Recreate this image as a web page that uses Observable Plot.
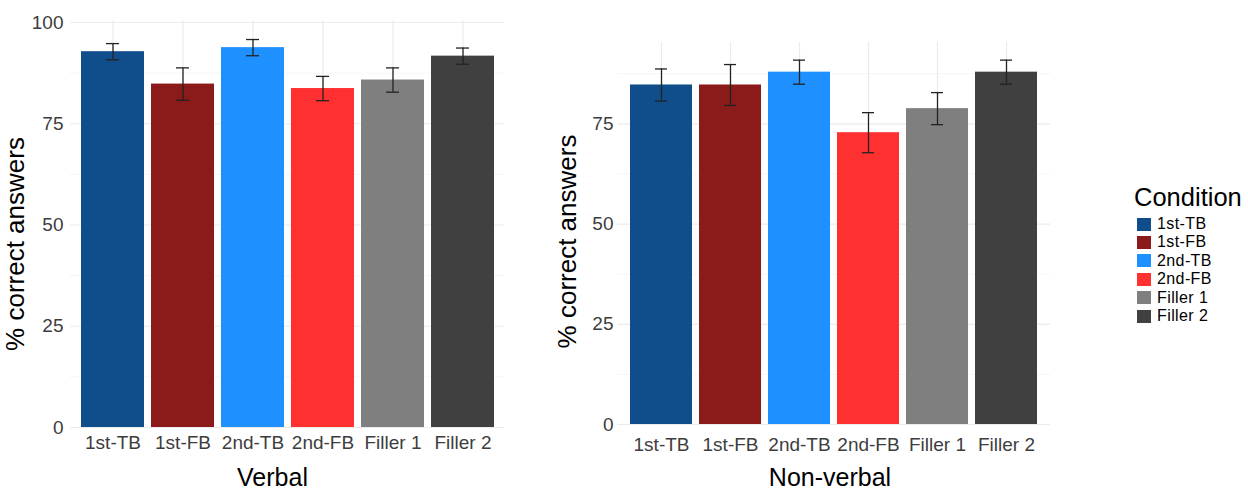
<!DOCTYPE html>
<html><head><meta charset="utf-8">
<script src="https://cdn.jsdelivr.net/npm/d3@7"></script>
<script src="https://cdn.jsdelivr.net/npm/@observablehq/plot@0.6"></script>
<style>
body{margin:0;background:#fff;font-family:"Liberation Sans",Arial,sans-serif;}
#wrap{position:relative;width:1248px;height:494px;overflow:hidden;background:#fff;}
#left,#right{position:absolute;top:0;}
#left{left:0px;} #right{left:530px;}
#legend{position:absolute;left:1134px;top:183px;color:#000;}
#legend .t{font-size:25.5px;line-height:29px;margin-bottom:3px;}
#legend .r{display:flex;align-items:center;height:18.4px;line-height:18.4px;font-size:16px;letter-spacing:0.4px;}
#legend .s{width:14px;height:13px;margin-left:3px;margin-right:6px;}
</style></head><body>
<div id="wrap"><div id="left"></div><div id="right"></div><div id="legend"></div></div>
<script>
const conditions = ["1st-TB", "1st-FB", "2nd-TB", "2nd-FB", "Filler 1", "Filler 2"];
const conditionColors = ["#104E8B", "#8B1A1A", "#1E90FF", "#FF3030", "#7F7F7F", "#404040"];
const verbalMean = [92.8, 84.8, 93.8, 83.7, 85.8, 91.7];
const verbalSE = [2, 4, 2, 3, 3, 2];
const nonverbalMean = [84.7, 84.7, 87.9, 72.8, 78.8, 87.9];
const nonverbalSE = [4, 5.1, 3, 5, 4, 3];
const yTicks = [0, 25, 50, 75, 100];
const yMinorTicks = [12.5, 37.5, 62.5, 87.5];
const legendTitle = "Condition";
const yTitle = "% correct answers";

function panel(o) {
  const data = conditions.map((c, i) => ({c, m: o.mean[i], lo: o.mean[i] - o.se[i], hi: o.mean[i] + o.se[i]}));
  const font = "'Liberation Sans', Arial, sans-serif";
  return Plot.plot({
    width: o.width, height: 494,
    marginLeft: o.marginLeft, marginRight: o.marginRight, marginTop: o.marginTop, marginBottom: o.marginBottom,
    style: {fontFamily: font, background: "#fff", overflow: "visible"},
    x: {domain: conditions, paddingInner: 0.1, paddingOuter: 0.15, axis: null},
    y: {domain: [0, o.yMax], axis: null},
    color: {domain: conditions, range: conditionColors},
    marks: [
      Plot.ruleY(yMinorTicks.filter(v => v <= o.yMax), {stroke: "#f2f2f2", strokeWidth: 0.8}),
      Plot.ruleY(yTicks.filter(v => v <= o.yMax), {stroke: "#ebebeb", strokeWidth: 1.2}),
      Plot.ruleX(conditions, {x: d => d, stroke: "#ebebeb", strokeWidth: 1.2}),
      Plot.barY(data, {x: "c", y: "m", fill: "c"}),
      Plot.ruleX(data, {x: "c", y1: "lo", y2: "hi", stroke: "#222", strokeWidth: 1.3}),
      Plot.tickY(data, {x: "c", y: "lo", stroke: "#222", strokeWidth: 1.3, insetLeft: 25, insetRight: 25}),
      Plot.tickY(data, {x: "c", y: "hi", stroke: "#222", strokeWidth: 1.3, insetLeft: 25, insetRight: 25}),
      Plot.axisX({tickSize: 0, tickPadding: o.tickPadX, fontSize: 19, color: "#3d3d3d", label: null}),
      Plot.axisY({ticks: yTicks.filter(v => v <= o.yMax), tickSize: 0, tickPadding: o.tickPadY, fontSize: 19, color: "#3d3d3d", label: null}),
      Plot.text([o.title], {frameAnchor: "bottom", text: d => d, dx: o.titleDx, dy: o.titleDy, fontSize: 25, fill: "#000"}),
      Plot.text([yTitle], {frameAnchor: "left", textAnchor: "middle", text: d => d, rotate: -90, dx: o.yTitleDx, dy: o.yTitleDy, fontSize: 26, fill: "#000"})
    ]
  });
}

document.getElementById("left").append(panel({
  mean: verbalMean, se: verbalSE, title: "Verbal", width: 530,
  marginLeft: 70, marginRight: 26, marginTop: 20, marginBottom: 67, yMax: 100.5,
  tickPadX: 8, tickPadY: 7, titleDx: -15, titleDy: 58, yTitleDx: -55, yTitleDy: 20
}));
document.getElementById("right").append(panel({
  mean: nonverbalMean, se: nonverbalSE, title: "Non-verbal", width: 530,
  marginLeft: 87, marginRight: 10, marginTop: 42, marginBottom: 70, yMax: 95.3,
  tickPadX: 13, tickPadY: 4, titleDx: -4, titleDy: 61, yTitleDx: -50, yTitleDy: 8
}));

const lg = document.getElementById("legend");
const t = document.createElement("div"); t.className = "t"; t.textContent = legendTitle; lg.append(t);
conditions.forEach((c, i) => {
  const r = document.createElement("div"); r.className = "r";
  const s = document.createElement("div"); s.className = "s"; s.style.background = conditionColors[i];
  const l = document.createElement("span"); l.textContent = c;
  r.append(s, l); lg.append(r);
});
</script>
</body></html>
